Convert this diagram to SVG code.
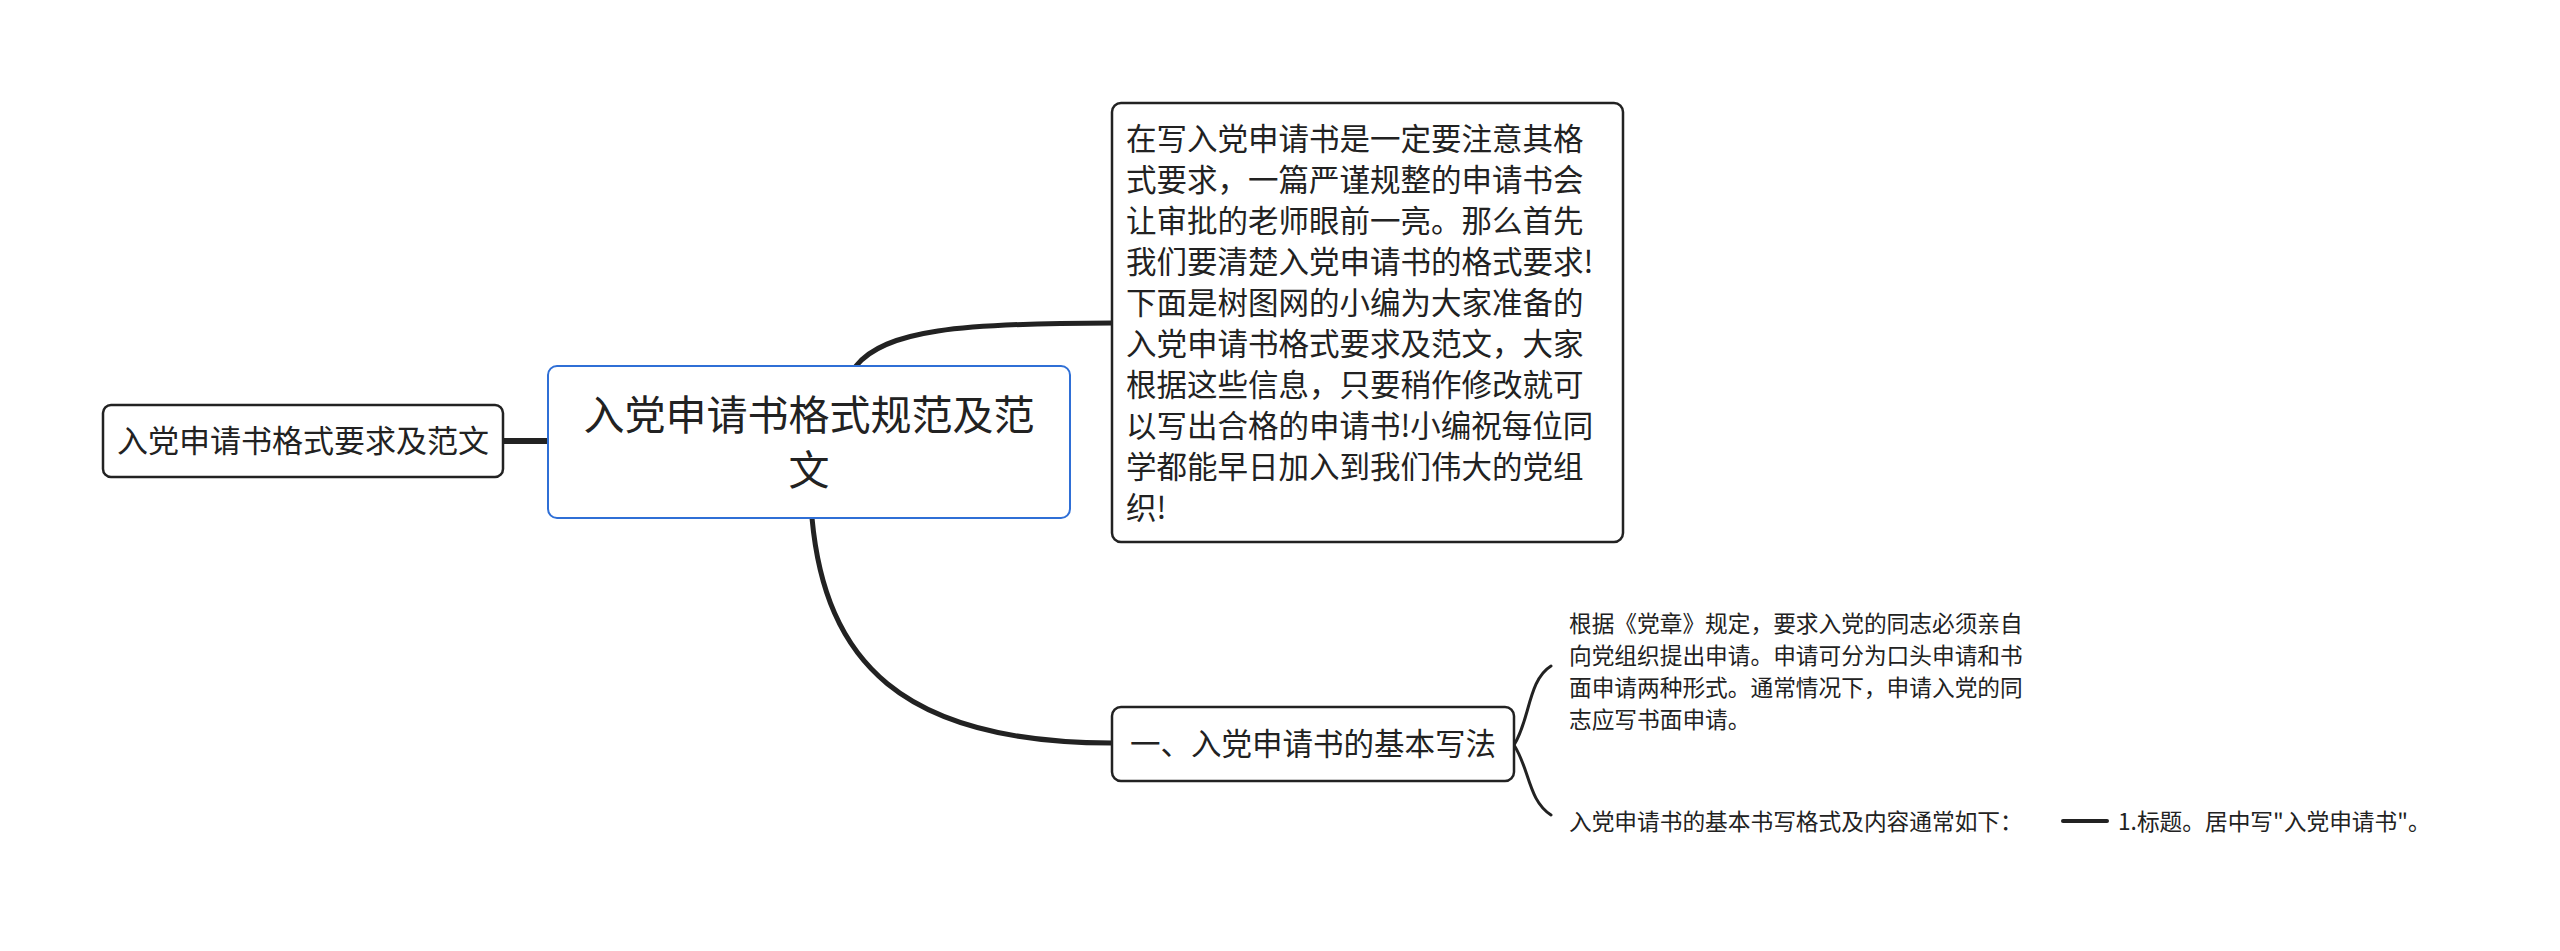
<svg xmlns="http://www.w3.org/2000/svg" width="2560" height="951" viewBox="0 0 2560 951">
<style>
text{font-family:"Noto Sans CJK SC","Liberation Sans",sans-serif;fill:#222}
.box{fill:#fff;stroke:#222;stroke-width:2.5}
.t28{font-size:30.5px}
.t22{font-size:22.7px}
.c{fill:none;stroke:#222;stroke-linecap:round}
</style>
<rect width="2560" height="951" fill="#fff"/>
<g id="connectors">
<path class="c" stroke-width="6" d="M503 441 L547 441"/>
<path class="c" stroke-width="5" d="M856 366 C885 330 960 323 1112 323"/>
<path class="c" stroke-width="5" d="M812 518 C825 660 900 743 1112 743"/>
<path class="c" stroke-width="3" d="M1514 745 C1530 720 1528 680 1551 666"/>
<path class="c" stroke-width="3" d="M1514 745 C1530 770 1528 800 1551 815"/>
<path class="c" stroke-width="4" d="M2063 821 L2107 821"/>
</g>
<g id="left"><rect class="box" x="103" y="405" width="400" height="72" rx="8"/><text x="303" y="452" font-size="31" text-anchor="middle">入党申请书格式要求及范文</text></g>
<g id="root"><rect x="548" y="366" width="522" height="152" rx="9" fill="#fff" stroke="#2f6fd6" stroke-width="2"/>
<text x="809" y="430" font-size="41" text-anchor="middle">入党申请书格式规范及范</text><text x="809" y="485" font-size="41" text-anchor="middle">文</text></g>
<g id="intro"><rect class="box" x="1112" y="103" width="511" height="439" rx="9"/>
<text class="t28"><tspan x="1126" y="150">在写入党申请书是一定要注意其格</tspan><tspan x="1126" y="191">式要求，一篇严谨规整的申请书会</tspan><tspan x="1126" y="232">让审批的老师眼前一亮。那么首先</tspan><tspan x="1126" y="273">我们要清楚入党申请书的格式要求!</tspan><tspan x="1126" y="314">下面是树图网的小编为大家准备的</tspan><tspan x="1126" y="355">入党申请书格式要求及范文，大家</tspan><tspan x="1126" y="396">根据这些信息，只要稍作修改就可</tspan><tspan x="1126" y="437">以写出合格的申请书!小编祝每位同</tspan><tspan x="1126" y="478">学都能早日加入到我们伟大的党组</tspan><tspan x="1126" y="519">织!</tspan></text></g>
<g id="basic"><rect class="box" x="1112" y="707" width="402" height="74" rx="9"/><text class="t28" x="1313" y="755" text-anchor="middle">一、入党申请书的基本写法</text></g>
<g id="rule"><text class="t22"><tspan x="1569" y="632">根据《党章》规定，要求入党的同志必须亲自</tspan><tspan x="1569" y="664">向党组织提出申请。申请可分为口头申请和书</tspan><tspan x="1569" y="696">面申请两种形式。通常情况下，申请入党的同</tspan><tspan x="1569" y="728">志应写书面申请。</tspan></text></g>
<g id="format"><text class="t22" x="1569" y="830">入党申请书的基本书写格式及内容通常如下：</text></g>
<g id="title"><text class="t22" x="2118" y="830">1.标题。居中写"入党申请书"。</text></g>
</svg>
